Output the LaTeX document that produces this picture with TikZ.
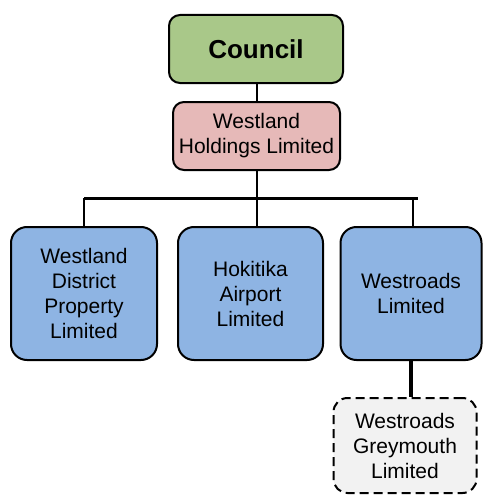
\documentclass[tikz,border=0pt]{standalone}
\usepackage{fontspec}
\setmainfont{Liberation Sans}
\definecolor{cgreen}{RGB}{169,200,137}
\definecolor{cpink}{RGB}{230,185,184}
\definecolor{cblue}{RGB}{142,180,227}
\definecolor{cgray}{RGB}{242,242,242}
\begin{document}
\begin{tikzpicture}[x=1pt,y=-1pt,
  box/.style={draw=black,line width=2pt,align=center,inner sep=0pt,font=\fontsize{21}{25}\selectfont},
  topbox/.style={box,rounded corners=11pt},
  subbox/.style={box,rounded corners=16pt,fill=cblue,minimum height=133pt},
  conn/.style={line width=2.5pt}]
\useasboundingbox (0,0) rectangle (483,495);
\node[topbox,fill=cgreen,minimum width=174pt,minimum height=68pt,font=\fontsize{26}{30}\selectfont\bfseries] (council) at (256,49) {Council};
\node[topbox,fill=cpink,minimum width=167pt,minimum height=68pt] (hold) at (256.5,136) {Westland\\Holdings Limited};
\node[subbox,minimum width=146pt] (left) at (84,293.5) {Westland\\District\\Property\\Limited};
\node[subbox,minimum width=145pt] (mid) at (250.5,293.5) {Hokitika\\Airport\\Limited};
\node[subbox,minimum width=141pt] (right) at (411,293.5) {Westroads\\Limited};
\node[box,dashed,dash pattern=on 9pt off 5pt,rounded corners=14pt,fill=cgray,minimum width=143pt,minimum height=95pt] (gm) at (405,445.5) {Westroads\\Greymouth\\Limited};
\coordinate (bl) at (84,198);
\coordinate (br) at (418,198);
\coordinate (bm) at (257,198);
\draw[conn] (council.south -| bm) -- (hold.north -| bm);
\draw[conn,line width=3pt] (bl) -- (br);
\draw[conn] (hold.south -| bm) -- (bm);
\draw[conn] (bl) -- (left.north);
\draw[conn] (bm) -- (mid.north -| bm);
\draw[conn] (right.north -| 413,0) -- (413,198);
\draw[line width=4pt] (right.south) -- (right.south |- gm.north);
\end{tikzpicture}
\end{document}
